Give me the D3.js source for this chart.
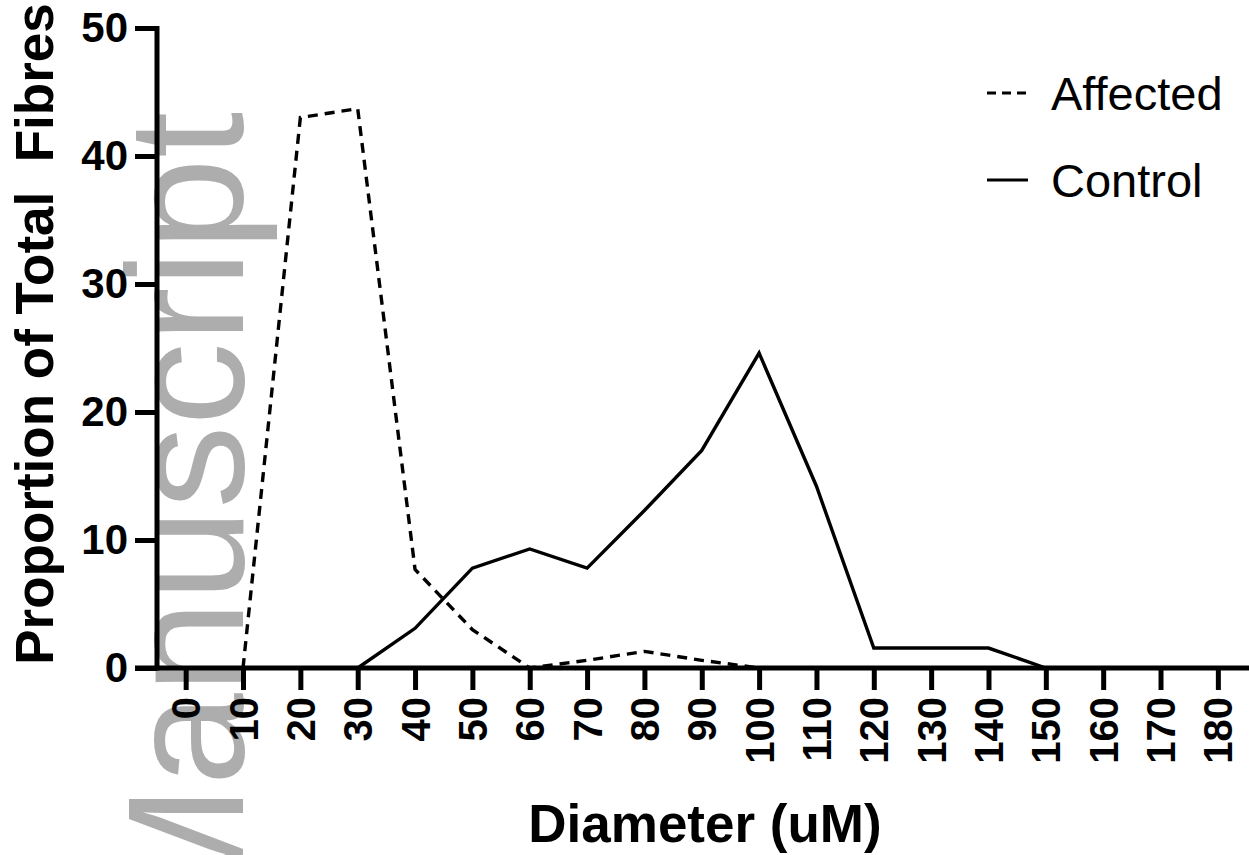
<!DOCTYPE html>
<html>
<head>
<meta charset="utf-8">
<script src="https://cdn.jsdelivr.net/npm/d3@7"></script>
<style>
  html, body { margin: 0; padding: 0; background: #fff; }
  svg { display: block; }
  text { font-family: Arial, "Liberation Sans", sans-serif; }
</style>
</head>
<body>
<svg id="chart" width="1249" height="855"></svg>
<script>
// ---- data ----
const xTicks = [0,10,20,30,40,50,60,70,80,90,100,110,120,130,140,150,160,170,180];
const yTicks = [0,10,20,30,40,50];
const affectedX = [10,20,30,40,50,60,70,80,90,100];
const affectedY = [0,43.0,43.7,7.7,3.0,0,0.6,1.3,0.6,0];
const controlX = [30,40,50,60,70,80,90,100,110,120,130,140,150];
const controlY = [0,3.1,7.8,9.3,7.8,12.3,17.0,24.6,14.2,1.56,1.56,1.56,0];
const seriesNames = ["Affected","Control"];
const xTitle = "Diameter (uM)";
const yTitle = "Proportion of Total  Fibres";
const watermark = "Manuscript";

// ---- layout ----
const svg = d3.select("#chart");
const x = d3.scaleLinear().domain([-5, 185.5]).range([157, 1249.4]);
const y = d3.scaleLinear().domain([0, 50]).range([668, 28]);

// watermark (beneath everything)
svg.append("text")
  .attr("transform", "translate(243,112) rotate(-90)")
  .attr("text-anchor", "end")
  .attr("font-size", 166)
  .attr("fill", "#adadad")
  .text(watermark);

// data lines
const line = d3.line().x(d => x(d[0])).y(d => y(d[1]));
svg.append("path")
  .datum(affectedX.map((v,i) => [v, affectedY[i]]))
  .attr("d", line)
  .attr("fill", "none").attr("stroke", "#000").attr("stroke-width", 3.4)
  .attr("stroke-dasharray", "10,7").attr("stroke-linejoin", "miter");
svg.append("path")
  .datum(controlX.map((v,i) => [v, controlY[i]]))
  .attr("d", line)
  .attr("fill", "none").attr("stroke", "#000").attr("stroke-width", 3.4)
  .attr("stroke-linejoin", "miter");

// y axis
const yAxis = svg.append("g").attr("transform", "translate(157,0)")
  .call(d3.axisLeft(y).tickValues(yTicks).tickSize(22).tickPadding(7).tickFormat(d3.format("d")));
yAxis.select(".domain").attr("stroke-width", 5).attr("d", `M0,${y(50)-2}V${y(0)+2.5}`);
yAxis.selectAll(".tick line").attr("stroke-width", 5);
yAxis.selectAll(".tick text").attr("font-size", 42).attr("font-weight", "bold")
  .attr("font-family", "Arial, 'Liberation Sans', sans-serif").attr("fill", "#000");

// x axis
const xAxis = svg.append("g").attr("transform", "translate(0,668)")
  .call(d3.axisBottom(x).tickValues(xTicks).tickSize(22).tickFormat(d3.format("d")));
xAxis.select(".domain").attr("stroke-width", 5).attr("d", `M135,0H1249`);
xAxis.selectAll(".tick line").attr("stroke-width", 5);
xAxis.selectAll(".tick text")
  .attr("font-size", 40).attr("font-weight", "bold")
  .attr("font-family", "Arial, 'Liberation Sans', sans-serif").attr("fill", "#000")
  .attr("text-anchor", "end").attr("dy", null).attr("y", null)
  .attr("dominant-baseline", "central")
  .attr("transform", "translate(0,29) rotate(-90)");

// axis titles
svg.append("text")
  .attr("transform", "translate(53,334) rotate(-90)")
  .attr("text-anchor", "middle")
  .attr("font-size", 53).attr("font-weight", "bold")
  .style("white-space", "pre")
  .text(yTitle);
svg.append("text")
  .attr("x", 705).attr("y", 842)
  .attr("text-anchor", "middle")
  .attr("font-size", 53).attr("font-weight", "bold")
  .text(xTitle);

// legend
const legend = svg.append("g");
const legY = [93, 180];
legend.selectAll("line").data(seriesNames).join("line")
  .attr("x1", 987).attr("x2", 1028)
  .attr("y1", (d,i) => legY[i]).attr("y2", (d,i) => legY[i])
  .attr("stroke", "#000").attr("stroke-width", 3)
  .attr("stroke-dasharray", (d,i) => i === 0 ? "9,6" : null);
legend.selectAll("text").data(seriesNames).join("text")
  .attr("x", 1051).attr("y", (d,i) => legY[i] + 17)
  .attr("font-size", 47)
  .text(d => d);
</script>
</body>
</html>
